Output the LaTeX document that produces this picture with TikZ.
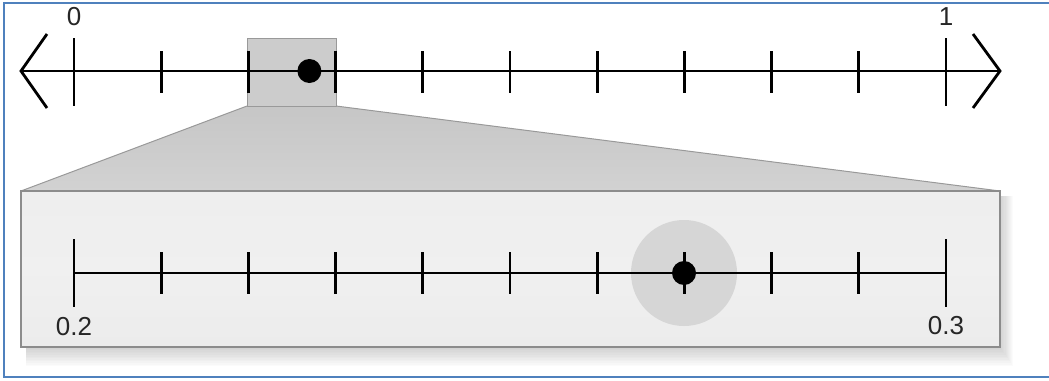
\documentclass[tikz,border=0pt]{standalone}
\usepackage{fontspec}
\setmainfont{Liberation Sans}
\definecolor{framecol}{HTML}{4F81BD}
\definecolor{boxfill}{HTML}{CCCCCC}
\definecolor{boxline}{HTML}{999999}
\definecolor{traptop}{HTML}{C6C6C6}
\definecolor{trapbot}{HTML}{D2D2D2}
\definecolor{panelfill}{HTML}{ECECEC}
\definecolor{panelline}{HTML}{8C8C8C}
\definecolor{halo}{HTML}{D6D6D6}
\begin{document}
\begin{tikzpicture}[x=0.5pt,y=-0.5pt,
  axis/.style={line width=1.4pt, black},
  tickmark/.style={line width=1.4pt, black},
  lab/.style={font=\fontsize{13}{15}\selectfont, inner sep=0pt, text=black!85},
  dot/.style={circle, fill=black, minimum size=12pt, inner sep=0pt},
  halonode/.style={circle, fill=halo, minimum size=53pt, inner sep=0pt},
]
\useasboundingbox (0,0) rectangle (1049,380);
% outer frame (right side lies beyond the picture)
\draw[framecol, line width=0.9pt] (1070,3) -- (4,3) -- (4,377) -- (1070,377);
% soft shadow of the zoom panel
\foreach \i in {1,...,12}
  \fill[black, opacity=0.014] (26,196) rectangle (1000+\i*1.1, 347+\i*1.6);
% zoom funnel
\shade[top color=traptop, bottom color=trapbot] (247,106) -- (336,106) -- (1000,191) -- (21,191) -- cycle;
\draw[boxline, line width=0.5pt] (247,106) -- (21,191);
\draw[boxline, line width=0.5pt] (336,106) -- (1000,191);
% zoom panel
\shade[top color=panelfill!90!white, bottom color=panelfill, middle color=panelfill!80!white] (21,191) rectangle (1000,347);
\draw[panelline, line width=0.6pt] (21,191) rectangle (1000,347);
% small box on top line
\filldraw[fill=boxfill, draw=boxline, line width=0.5pt] (247,38) rectangle (336,106);
% top number line
\coordinate (L) at (21,71);
\coordinate (R) at (1000,71);
\draw[axis] (L) -- (R);
\draw[axis] (47,34) -- (L) -- (47,108);
\draw[axis] (973,34) -- (R) -- (973,108);
\draw[tickmark] (74,38) -- (74,106);
\draw[tickmark] (946,38) -- (946,106);
\foreach \k in {1,...,9}
  \draw[tickmark] (74+\k*87.2,51) -- (74+\k*87.2,93);
\node[lab] (zero) at (74,17) {0};
\node[lab] (one) at (946,17) {1};
\node[dot] (ptop) at (309.4,71) {};
% bottom number line
\node[halonode] (halo) at (684,273) {};
\coordinate (BL) at (74,273);
\coordinate (BR) at (946,273);
\draw[axis] (BL) -- (BR);
\draw[tickmark] (74,239) -- (74,307);
\draw[tickmark] (946,239) -- (946,307);
\foreach \k in {1,...,9}
  \draw[tickmark] (74+\k*87.2,252) -- (74+\k*87.2,294);
\node[dot] (pbot) at (684,273) {};
\node[lab] (lo) at (74,327) {0.2};
\node[lab] (hi) at (946,326) {0.3};
\end{tikzpicture}
\end{document}
